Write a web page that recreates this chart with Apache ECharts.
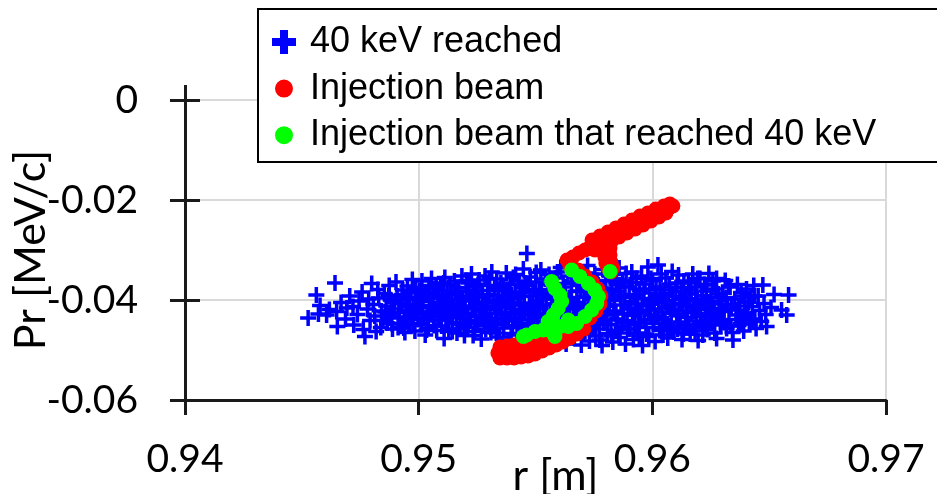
<!DOCTYPE html>
<html>
<head>
<meta charset="utf-8">
<script src="https://cdn.jsdelivr.net/npm/echarts@6/dist/echarts.min.js"></script>
<style>
html,body{margin:0;padding:0;background:#fff;}
#chart{width:937px;height:494px;}
</style>
</head>
<body>
<div id="chart"></div>
<script>
// ---- axis ticks ----
const xTicks = [0.94, 0.95, 0.96, 0.97];
const yTicks = [-0.06, -0.04, -0.02, 0];

// ---- series names ----
const seriesNames = ['40 keV reached', 'Injection beam', 'Injection beam that reached 40 keV'];

// ---- 40 keV reached (r [m], Pr [MeV/c]) ----
const reached40keV = [
[0.94527,-0.0436],
[0.94562,-0.0390],[0.94578,-0.0411],[0.94571,-0.0428],
[0.94606,-0.0430],[0.94642,-0.0366],[0.94618,-0.0419],[0.94649,-0.0423],
[0.94652,-0.0453],[0.94668,-0.0405],[0.94687,-0.0438],[0.94693,-0.0416],
[0.94719,-0.0413],[0.94722,-0.0450],[0.94705,-0.0392],[0.94738,-0.0429],[0.94745,-0.0402],
[0.94770,-0.0473],[0.94799,-0.0367],[0.94758,-0.0384],[0.94781,-0.0418],[0.94792,-0.0441],[0.94763,-0.0459],[0.94786,-0.0398],
[0.94806,-0.0409],[0.94812,-0.0432],[0.94825,-0.0379],[0.94838,-0.0455],[0.94841,-0.0422],[0.94829,-0.0396],[0.94847,-0.0441],[0.94818,-0.0463],
[0.94853,-0.0387],[0.94861,-0.0412],[0.94866,-0.0446],[0.94874,-0.0371],[0.94879,-0.0428],[0.94883,-0.0401],[0.94888,-0.0458],[0.94870,-0.0436],[0.94894,-0.0418],
[0.94903,-0.0364],[0.94908,-0.0392],[0.94915,-0.0425],[0.94921,-0.0448],[0.94926,-0.0407],[0.94932,-0.0380],[0.94938,-0.0437],[0.94941,-0.0465],[0.94946,-0.0414],[0.94912,-0.0455],
[0.94952,-0.0372],[0.94955,-0.0398],[0.94958,-0.0421],[0.94961,-0.0447],[0.94966,-0.0386],[0.94969,-0.0433],[0.94973,-0.0359],[0.94978,-0.0410],[0.94984,-0.0462],[0.94989,-0.0394],[0.94995,-0.0427],
[0.95003,-0.0381],[0.95006,-0.0415],[0.95011,-0.0449],[0.95014,-0.0362],[0.95019,-0.0403],[0.95023,-0.0437],[0.95028,-0.0470],[0.95032,-0.0390],[0.95036,-0.0424],[0.95041,-0.0456],[0.95044,-0.0371],[0.95048,-0.0411],
[0.95052,-0.0428],[0.95055,-0.0357],[0.95061,-0.0396],[0.95064,-0.0442],[0.95069,-0.0377],[0.95073,-0.0417],[0.95077,-0.0461],[0.95082,-0.0388],[0.95086,-0.0433],[0.95091,-0.0405],[0.95094,-0.0368],[0.95098,-0.0452],
[0.95102,-0.0393],[0.95105,-0.0421],[0.95109,-0.0477],[0.95112,-0.0355],[0.95117,-0.0440],[0.95121,-0.0382],[0.95125,-0.0410],[0.95129,-0.0458],[0.95134,-0.0369],[0.95138,-0.0428],[0.95142,-0.0399],[0.95145,-0.0446],[0.95149,-0.0415],
[0.95153,-0.0362],[0.95156,-0.0387],[0.95161,-0.0431],[0.95164,-0.0466],[0.95168,-0.0408],[0.95172,-0.0376],[0.95177,-0.0449],[0.95181,-0.0419],[0.95185,-0.0352],[0.95188,-0.0395],[0.95192,-0.0437],[0.95196,-0.0471],[0.95199,-0.0412],
[0.95203,-0.0383],[0.95207,-0.0426],[0.95210,-0.0455],[0.95215,-0.0366],[0.95218,-0.0402],[0.95223,-0.0441],[0.95226,-0.0348],[0.95231,-0.0418],[0.95235,-0.0389],[0.95239,-0.0463],[0.95242,-0.0430],[0.95246,-0.0374],[0.95249,-0.0409],
[0.95252,-0.0447],[0.95256,-0.0395],[0.95259,-0.0360],[0.95263,-0.0422],[0.95268,-0.0478],[0.95271,-0.0381],[0.95275,-0.0436],[0.95279,-0.0406],[0.95284,-0.0352],[0.95287,-0.0459],[0.95291,-0.0416],[0.95295,-0.0371],[0.95298,-0.0440],
[0.95302,-0.0389],[0.95306,-0.0427],[0.95309,-0.0465],[0.95313,-0.0344],[0.95318,-0.0401],[0.95321,-0.0449],[0.95325,-0.0375],[0.95329,-0.0419],[0.95334,-0.0358],[0.95337,-0.0437],[0.95341,-0.0392],[0.95345,-0.0474],[0.95348,-0.0411],
[0.95352,-0.0366],[0.95355,-0.0430],[0.95359,-0.0398],[0.95364,-0.0456],[0.95367,-0.0381],[0.95371,-0.0414],[0.95375,-0.0346],[0.95379,-0.0442],[0.95383,-0.0480],[0.95386,-0.0404],[0.95391,-0.0369],[0.95394,-0.0425],[0.95398,-0.0389],
[0.95402,-0.0451],[0.95405,-0.0355],[0.95409,-0.0418],[0.95413,-0.0384],[0.95417,-0.0436],[0.95421,-0.0470],[0.95425,-0.0397],[0.95428,-0.0362],[0.95432,-0.0428],[0.95437,-0.0409],[0.95441,-0.0446],[0.95444,-0.0376],[0.95448,-0.0338],
[0.95452,-0.0393],[0.95455,-0.0421],[0.95459,-0.0460],[0.95463,-0.0307],[0.95466,-0.0371],[0.95470,-0.0439],[0.95474,-0.0406],[0.95478,-0.0354],[0.95482,-0.0477],[0.95486,-0.0415],[0.95489,-0.0383],[0.95493,-0.0449],[0.95497,-0.0428],
[0.95501,-0.0364],[0.95505,-0.0401],[0.95508,-0.0435],[0.95512,-0.0466],[0.95516,-0.0379],[0.95519,-0.0418],[0.95523,-0.0340],[0.95527,-0.0452],[0.95531,-0.0392],[0.95535,-0.0427],[0.95538,-0.0485],[0.95542,-0.0358],[0.95546,-0.0410],
[0.95551,-0.0443],[0.95554,-0.0386],[0.95558,-0.0349],[0.95562,-0.0421],[0.95566,-0.0462],[0.95569,-0.0397],[0.95573,-0.0370],[0.95577,-0.0433],[0.95581,-0.0407],[0.95585,-0.0478],[0.95588,-0.0356],[0.95592,-0.0415],[0.95596,-0.0451],
[0.95601,-0.0380],[0.95604,-0.0426],[0.95608,-0.0335],[0.95612,-0.0469],[0.95616,-0.0404],[0.95619,-0.0367],[0.95623,-0.0441],[0.95627,-0.0389],[0.95631,-0.0488],[0.95635,-0.0418],[0.95638,-0.0352],[0.95642,-0.0456],[0.95646,-0.0431],
[0.95651,-0.0397],[0.95654,-0.0364],[0.95658,-0.0447],[0.95662,-0.0412],[0.95666,-0.0476],[0.95669,-0.0343],[0.95673,-0.0429],[0.95677,-0.0383],[0.95681,-0.0459],[0.95685,-0.0405],[0.95688,-0.0371],[0.95692,-0.0438],[0.95696,-0.0490],
[0.95701,-0.0356],[0.95704,-0.0421],[0.95708,-0.0394],[0.95712,-0.0463],[0.95716,-0.0377],[0.95719,-0.0445],[0.95723,-0.0331],[0.95727,-0.0409],[0.95731,-0.0482],[0.95735,-0.0365],[0.95738,-0.0430],[0.95742,-0.0388],[0.95746,-0.0454],
[0.95751,-0.0416],[0.95754,-0.0348],[0.95758,-0.0472],[0.95762,-0.0399],[0.95766,-0.0436],[0.95769,-0.0370],[0.95773,-0.0458],[0.95777,-0.0424],[0.95781,-0.0385],[0.95785,-0.0491],[0.95788,-0.0339],[0.95792,-0.0446],[0.95796,-0.0408],
[0.95801,-0.0362],[0.95804,-0.0430],[0.95808,-0.0467],[0.95812,-0.0392],[0.95816,-0.0413],[0.95819,-0.0352],[0.95823,-0.0449],[0.95827,-0.0378],[0.95831,-0.0484],[0.95835,-0.0422],[0.95838,-0.0401],[0.95842,-0.0461],[0.95846,-0.0369],
[0.95851,-0.0438],[0.95854,-0.0383],[0.95858,-0.0336],[0.95862,-0.0475],[0.95866,-0.0410],[0.95869,-0.0452],[0.95873,-0.0363],[0.95877,-0.0427],[0.95881,-0.0395],[0.95885,-0.0488],[0.95888,-0.0347],[0.95892,-0.0441],[0.95896,-0.0416],
[0.95901,-0.0374],[0.95904,-0.0458],[0.95908,-0.0403],[0.95912,-0.0344],[0.95916,-0.0431],[0.95919,-0.0479],[0.95923,-0.0389],[0.95927,-0.0420],[0.95931,-0.0357],[0.95935,-0.0466],[0.95938,-0.0408],[0.95942,-0.0445],[0.95946,-0.0381],
[0.95951,-0.0426],[0.95954,-0.0352],[0.95958,-0.0491],[0.95962,-0.0397],[0.95966,-0.0439],[0.95969,-0.0368],[0.95973,-0.0455],[0.95977,-0.0412],[0.95981,-0.0334],[0.95985,-0.0473],[0.95988,-0.0386],[0.95992,-0.0430],[0.95996,-0.0401],
[0.96001,-0.0361],[0.96004,-0.0447],[0.96008,-0.0418],[0.96012,-0.0483],[0.96016,-0.0379],[0.96019,-0.0433],[0.96024,-0.0330],[0.96027,-0.0405],[0.96031,-0.0461],[0.96035,-0.0392],[0.96038,-0.0348],[0.96042,-0.0424],[0.96046,-0.0470],
[0.96051,-0.0387],[0.96054,-0.0439],[0.96058,-0.0356],[0.96062,-0.0414],[0.96066,-0.0476],[0.96069,-0.0401],[0.96073,-0.0368],[0.96077,-0.0452],[0.96081,-0.0427],[0.96085,-0.0343],[0.96088,-0.0393],[0.96092,-0.0464],[0.96096,-0.0419],
[0.96101,-0.0375],[0.96104,-0.0431],[0.96108,-0.0458],[0.96112,-0.0350],[0.96116,-0.0407],[0.96119,-0.0444],[0.96123,-0.0383],[0.96127,-0.0479],[0.96131,-0.0422],[0.96135,-0.0362],[0.96138,-0.0396],[0.96142,-0.0450],[0.96146,-0.0413],
[0.96151,-0.0435],[0.96154,-0.0366],[0.96158,-0.0402],[0.96162,-0.0468],[0.96166,-0.0387],[0.96169,-0.0425],[0.96173,-0.0348],[0.96177,-0.0456],[0.96181,-0.0410],[0.96185,-0.0374],[0.96188,-0.0442],[0.96192,-0.0398],[0.96196,-0.0481],
[0.96201,-0.0419],[0.96204,-0.0357],[0.96208,-0.0446],[0.96212,-0.0391],[0.96216,-0.0470],[0.96219,-0.0405],[0.96223,-0.0369],[0.96227,-0.0433],[0.96231,-0.0382],[0.96235,-0.0459],[0.96238,-0.0414],[0.96242,-0.0347],[0.96246,-0.0427],
[0.96251,-0.0395],[0.96255,-0.0441],[0.96259,-0.0362],[0.96263,-0.0418],[0.96267,-0.0466],[0.96271,-0.0378],[0.96275,-0.0357],[0.96275,-0.0477],[0.96280,-0.0429],[0.96286,-0.0402],[0.96292,-0.0450],
[0.96302,-0.0386],[0.96307,-0.0423],[0.96312,-0.0361],[0.96318,-0.0457],[0.96322,-0.0409],[0.96328,-0.0439],[0.96333,-0.0374],[0.96338,-0.0416],[0.96343,-0.0465],[0.96345,-0.0480],
[0.96353,-0.0398],[0.96358,-0.0430],[0.96364,-0.0369],[0.96369,-0.0451],[0.96374,-0.0412],[0.96380,-0.0385],[0.96386,-0.0437],[0.96391,-0.0462],[0.96396,-0.0403],
[0.96403,-0.0378],[0.96409,-0.0426],[0.96415,-0.0448],[0.96421,-0.0395],[0.96428,-0.0413],[0.96434,-0.0371],[0.96439,-0.0440],[0.96444,-0.0457],
[0.96453,-0.0392],[0.96459,-0.0421],[0.96466,-0.0443],[0.96473,-0.0370],[0.96478,-0.0407],[0.96489,-0.0453],[0.96485,-0.0429],
[0.96508,-0.0415],[0.96521,-0.0389],[0.96553,-0.0420],[0.96575,-0.0430],[0.96583,-0.0390],
// denser core
[0.94857,-0.0424],[0.94872,-0.0392],[0.94885,-0.0447],[0.94898,-0.0403],[0.94918,-0.0434],[0.94929,-0.0389],[0.94936,-0.0456],[0.94944,-0.0398],[0.94949,-0.0440],
[0.94963,-0.0410],[0.94976,-0.0450],[0.94987,-0.0375],[0.94998,-0.0439],[0.95009,-0.0398],[0.95017,-0.0425],[0.95026,-0.0385],[0.95034,-0.0460],[0.95039,-0.0434],[0.95046,-0.0396],
[0.95058,-0.0412],[0.95066,-0.0451],[0.95075,-0.0371],[0.95084,-0.0424],[0.95093,-0.0440],[0.95107,-0.0366],[0.95115,-0.0404],[0.95127,-0.0435],[0.95136,-0.0389],[0.95144,-0.0463],
[0.95158,-0.0420],[0.95166,-0.0375],[0.95175,-0.0458],[0.95183,-0.0400],[0.95194,-0.0427],[0.95205,-0.0361],[0.95213,-0.0444],[0.95221,-0.0393],[0.95233,-0.0471],[0.95244,-0.0417],
[0.95254,-0.0369],[0.95261,-0.0433],[0.95273,-0.0392],[0.95282,-0.0452],[0.95293,-0.0404],[0.95304,-0.0357],[0.95311,-0.0441],[0.95323,-0.0412],[0.95332,-0.0466],[0.95343,-0.0381],
[0.95357,-0.0445],[0.95362,-0.0373],[0.95373,-0.0429],[0.95381,-0.0391],[0.95396,-0.0467],[0.95404,-0.0410],[0.95415,-0.0349],[0.95423,-0.0455],[0.95434,-0.0385],[0.95446,-0.0420],
[0.95457,-0.0366],[0.95468,-0.0452],[0.95476,-0.0392],[0.95484,-0.0430],[0.95495,-0.0469],[0.95503,-0.0345],[0.95514,-0.0411],[0.95525,-0.0386],[0.95533,-0.0442],[0.95544,-0.0473],
[0.95556,-0.0369],[0.95564,-0.0437],[0.95575,-0.0391],[0.95583,-0.0462],[0.95594,-0.0344],[0.95606,-0.0411],[0.95614,-0.0448],[0.95625,-0.0374],[0.95633,-0.0433],[0.95644,-0.0395],
[0.95656,-0.0471],[0.95664,-0.0355],[0.95675,-0.0416],[0.95683,-0.0442],[0.95694,-0.0382],[0.95706,-0.0468],[0.95714,-0.0346],[0.95725,-0.0425],[0.95733,-0.0399],[0.95744,-0.0372],
[0.95756,-0.0450],[0.95764,-0.0361],[0.95775,-0.0480],[0.95783,-0.0412],[0.95794,-0.0376],[0.95806,-0.0440],[0.95814,-0.0396],[0.95825,-0.0472],[0.95833,-0.0357],[0.95844,-0.0428],
[0.95856,-0.0466],[0.95864,-0.0390],[0.95875,-0.0445],[0.95883,-0.0372],[0.95894,-0.0458],[0.95906,-0.0418],[0.95914,-0.0365],[0.95925,-0.0450],[0.95933,-0.0396],[0.95944,-0.0472],
[0.95956,-0.0410],[0.95964,-0.0378],[0.95975,-0.0468],[0.95983,-0.0420],[0.95994,-0.0357],[0.96006,-0.0446],[0.96014,-0.0396],[0.96025,-0.0432],[0.96033,-0.0374],[0.96044,-0.0455],
[0.96056,-0.0405],[0.96064,-0.0448],[0.96075,-0.0380],[0.96083,-0.0462],[0.96094,-0.0410],[0.96106,-0.0366],[0.96114,-0.0429],[0.96125,-0.0399],[0.96133,-0.0468],[0.96144,-0.0388],
[0.96156,-0.0450],[0.96164,-0.0380],[0.96175,-0.0416],[0.96183,-0.0462],[0.96194,-0.0357],[0.96206,-0.0433],[0.96214,-0.0400],[0.96225,-0.0451],[0.96233,-0.0370],[0.96244,-0.0440],
[0.96257,-0.0408],[0.96268,-0.0432],[0.96283,-0.0388],[0.96296,-0.0420],[0.96305,-0.0445],[0.96316,-0.0395],[0.96327,-0.0372],[0.96336,-0.0452],
[0.96362,-0.0420],[0.96377,-0.0447],[0.96388,-0.0392],[0.96399,-0.0430],[0.96412,-0.0404],[0.96426,-0.0438],[0.96437,-0.0392]
];

// ---- Injection beam ----
const injectionBeam = [
// upper branch, centre
[0.95635,-0.0320],[0.95660,-0.0314],[0.95686,-0.0306],[0.95712,-0.0300],[0.95737,-0.0292],[0.95763,-0.0286],[0.95789,-0.0280],[0.95814,-0.0274],[0.95840,-0.0268],[0.95866,-0.0262],[0.95891,-0.0256],[0.95917,-0.0250],[0.95943,-0.0244],[0.95968,-0.0238],[0.95994,-0.0232],[0.96020,-0.0226],[0.96045,-0.0222],[0.96071,-0.0216],[0.96088,-0.0212],
// upper branch, upper edge
[0.95742,-0.0280],[0.95776,-0.0272],[0.95810,-0.0264],[0.95844,-0.0256],[0.95879,-0.0248],[0.95913,-0.0240],[0.95947,-0.0232],[0.95981,-0.0226],[0.96015,-0.0218],[0.96050,-0.0212],[0.96075,-0.0208],
// upper branch, lower edge
[0.95754,-0.0300],[0.95789,-0.0292],[0.95823,-0.0284],[0.95857,-0.0274],[0.95891,-0.0266],[0.95926,-0.0258],[0.95960,-0.0250],[0.95994,-0.0242],[0.96028,-0.0234],[0.96058,-0.0226],
// hook
[0.95801,-0.0290],[0.95797,-0.0302],[0.95797,-0.0314],[0.95801,-0.0326],[0.95810,-0.0336],[0.95823,-0.0344],
[0.95819,-0.0296],[0.95819,-0.0310],[0.95823,-0.0324],[0.95831,-0.0336],
// middle bend
[0.95647,-0.0332],[0.95682,-0.0340],[0.95712,-0.0352],[0.95742,-0.0364],[0.95767,-0.0378],[0.95780,-0.0392],[0.95776,-0.0408],[0.95759,-0.0422],[0.95733,-0.0436],[0.95703,-0.0448],[0.95673,-0.0458],
// lower branch, centre
[0.95339,-0.0506],[0.95356,-0.0508],[0.95382,-0.0506],[0.95408,-0.0504],[0.95433,-0.0500],[0.95459,-0.0496],[0.95485,-0.0492],[0.95510,-0.0488],[0.95536,-0.0484],[0.95562,-0.0480],[0.95588,-0.0476],[0.95613,-0.0472],[0.95639,-0.0468],[0.95665,-0.0462],[0.95690,-0.0456],
// lower branch, lower edge
[0.95348,-0.0516],[0.95378,-0.0516],[0.95408,-0.0516],[0.95438,-0.0514],[0.95468,-0.0512],[0.95498,-0.0508],[0.95528,-0.0502],[0.95558,-0.0496],[0.95588,-0.0490],[0.95617,-0.0484],[0.95647,-0.0476],[0.95677,-0.0468],[0.95707,-0.0458],
// lower branch, upper edge
[0.95348,-0.0494],[0.95378,-0.0492],[0.95408,-0.0490],[0.95438,-0.0486],[0.95468,-0.0480],[0.95498,-0.0476],[0.95528,-0.0472],[0.95558,-0.0466],[0.95588,-0.0462]
];

// ---- Injection beam that reached 40 keV ----
const injectionReached = [
[0.95655,-0.0340],[0.95690,-0.0353],[0.95726,-0.0367],[0.95754,-0.0380],[0.95769,-0.0393],[0.95762,-0.0407],[0.95740,-0.0420],[0.95712,-0.0433],[0.95676,-0.0447],[0.95640,-0.0453],[0.95605,-0.0453],[0.95569,-0.0460],[0.95533,-0.0460],[0.95498,-0.0463],[0.95462,-0.0470],[0.95448,-0.0473],
[0.95569,-0.0363],[0.95583,-0.0377],[0.95605,-0.0390],[0.95612,-0.0403],[0.95597,-0.0417],[0.95576,-0.0430],[0.95554,-0.0443],[0.95569,-0.0463],[0.95583,-0.0473],[0.95640,-0.0440],
[0.95819,-0.0343]
];

const tickFont = 'Lato, "Noto Sans", sans-serif';
const axisColor = '#1a1a1a';
const plusPath = 'path://M6.25,0H9.75V6.25H16V9.75H9.75V16H6.25V9.75H0V6.25H6.25Z';
const plusLegend = 'path://M8,0H16V8H24V16H16V24H8V16H0V8H8Z';
const circleLegend = 'path://M0,0h0.01M24,24h0.01M12,3A9,9 0 1,1 11.999,3Z';

function baseX(extra) {
  return Object.assign({
    type: 'value', min: xTicks[0], max: xTicks[xTicks.length - 1], interval: xTicks[1] - xTicks[0],
    position: 'bottom'
  }, extra);
}
function baseY(extra) {
  return Object.assign({
    type: 'value', min: yTicks[0], max: yTicks[yTicks.length - 1], interval: yTicks[1] - yTicks[0],
    position: 'left'
  }, extra);
}

const chart = echarts.init(document.getElementById('chart'), null, {renderer: 'canvas'});
chart.setOption({
  animation: false,
  backgroundColor: '#fff',
  grid: {left: 185, top: 100, right: 51, bottom: 94, containLabel: false, outerBoundsMode: 'none'},
  xAxis: [
    baseX({
      axisLine: {show: true, onZero: false, lineStyle: {color: axisColor, width: 3}},
      axisTick: {show: true, length: 15, lineStyle: {color: axisColor, width: 3}},
      axisLabel: {margin: 40, fontSize: 39, fontFamily: tickFont, color: '#000',
        formatter: v => String(+v.toFixed(2))},
      splitLine: {show: true, lineStyle: {color: '#d9d9d9', width: 2}},
      name: 'r [m]', nameLocation: 'middle', nameGap: 55, nameMoveOverlap: false,
      nameTextStyle: {fontSize: 43, fontFamily: tickFont, color: '#000', padding: [0, 0, 0, 40]}
    }),
    baseX({
      axisLine: {show: false},
      axisTick: {show: true, inside: true, length: 15, lineStyle: {color: axisColor, width: 3}},
      axisLabel: {show: false}, splitLine: {show: false}
    })
  ],
  yAxis: [
    baseY({
      axisLine: {show: true, onZero: false, lineStyle: {color: axisColor, width: 3}},
      axisTick: {show: true, length: 15, lineStyle: {color: axisColor, width: 3}},
      axisLabel: {margin: 47, fontSize: 39, fontFamily: tickFont, color: '#000',
        formatter: v => String(+v.toFixed(2))},
      splitLine: {show: true, lineStyle: {color: '#d9d9d9', width: 2}},
      name: 'Pr [MeV/c]', nameLocation: 'middle', nameGap: 132, nameRotate: 90, nameMoveOverlap: false,
      nameTextStyle: {fontSize: 43, fontFamily: tickFont, color: '#000'}
    }),
    baseY({
      axisLine: {show: false},
      axisTick: {show: true, inside: true, length: 15, lineStyle: {color: axisColor, width: 3}},
      axisLabel: {show: false}, splitLine: {show: false}
    })
  ],
  legend: {
    orient: 'vertical', left: 272, top: 24, padding: 0,
    itemWidth: 24, itemHeight: 24, itemGap: 10.6, selectedMode: false,
    textStyle: {fontFamily: '"Liberation Sans", Arial, sans-serif', fontSize: 36, lineHeight: 36, color: '#000', padding: [0, 0, 0, 9]},
    data: [
      {name: seriesNames[0], icon: plusLegend},
      {name: seriesNames[1], icon: circleLegend},
      {name: seriesNames[2], icon: circleLegend}
    ],
    z: 10
  },
  graphic: [{
    type: 'rect', z: 9, silent: true,
    shape: {x: 258, y: 9, width: 700, height: 153},
    style: {fill: '#fff', stroke: '#000', lineWidth: 2}
  }],
  series: [
    {name: seriesNames[0], type: 'scatter', data: reached40keV, symbol: plusPath, symbolSize: 16,
     itemStyle: {color: '#0000ff', opacity: 1}, z: 2},
    {name: seriesNames[1], type: 'scatter', data: injectionBeam, symbol: 'circle', symbolSize: 15,
     itemStyle: {color: '#ff0000', opacity: 1}, z: 3},
    {name: seriesNames[2], type: 'scatter', data: injectionReached, symbol: 'circle', symbolSize: 15,
     itemStyle: {color: '#00ff00', opacity: 1}, z: 4}
  ]
});
</script>
</body>
</html>
